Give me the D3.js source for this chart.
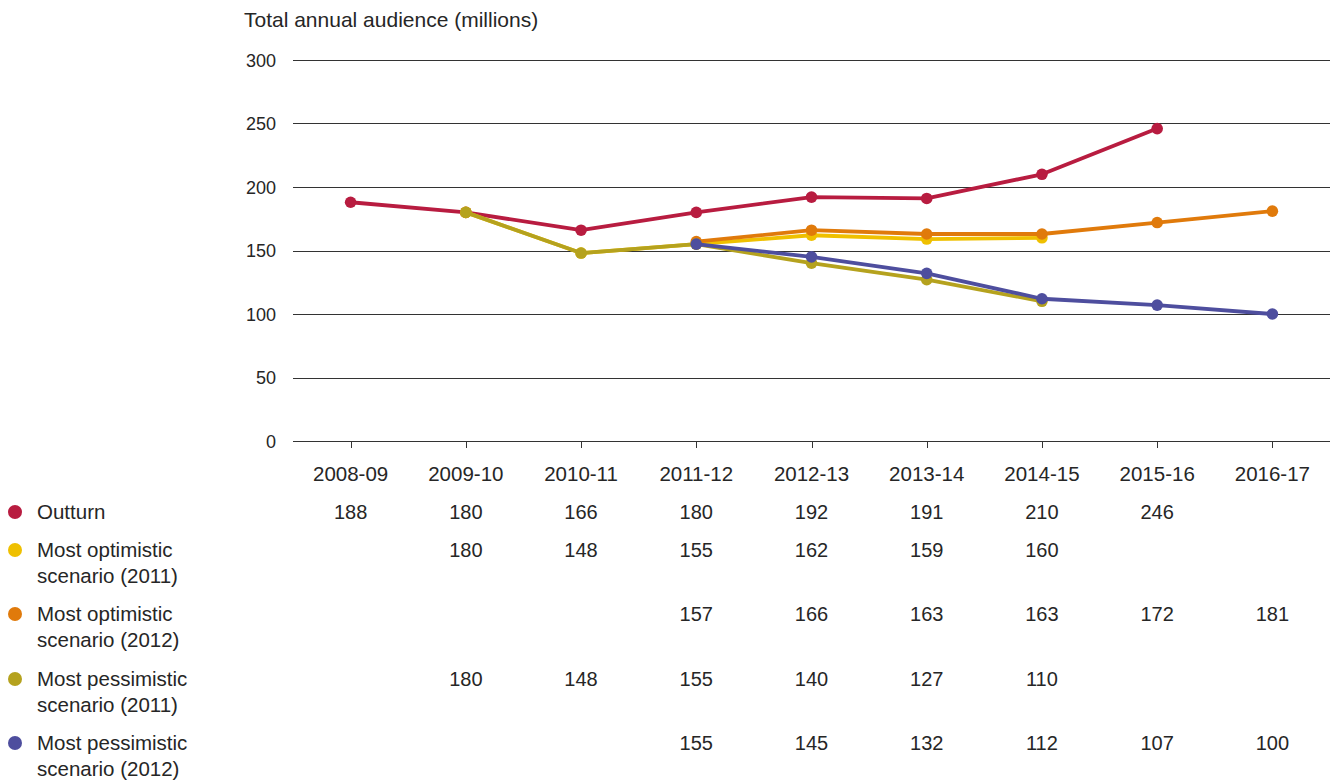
<!DOCTYPE html>
<html><head><meta charset="utf-8">
<script src="https://cdn.jsdelivr.net/npm/d3@7"></script>
<style>
body{margin:0;background:#fff;}
text{font-family:"Liberation Sans",Arial,sans-serif;fill:#262626;}
</style></head>
<body>
<svg id="c" width="1336" height="782"></svg>
<script>
const categories = ["2008-09","2009-10","2010-11","2011-12","2012-13","2013-14","2014-15","2015-16","2016-17"];
const outturn       = [188,180,166,180,192,191,210,246,null];
const optimistic2011 = [null,180,148,155,162,159,160,null,null];
const optimistic2012 = [null,null,null,157,166,163,163,172,181];
const pessimistic2011 = [null,180,148,155,140,127,110,null,null];
const pessimistic2012 = [null,null,null,155,145,132,112,107,100];
const yTicks = [0,50,100,150,200,250,300];
const seriesNames = [["Outturn"],["Most optimistic","scenario (2011)"],["Most optimistic","scenario (2012)"],["Most pessimistic","scenario (2011)"],["Most pessimistic","scenario (2012)"]];
const seriesColors = ["#B81C40","#EFC000","#E07A0B","#B5A21E","#4E4E9E"];
const seriesValues = [outturn, optimistic2011, optimistic2012, pessimistic2011, pessimistic2012];

const svg = d3.select("#c");
const x = d3.scaleBand().domain(categories).range([293,1330]);
const y = d3.scaleLinear().domain([0,300]).range([441,60]);
const cx = c => x(c) + x.bandwidth()/2;

// title
svg.append("text").attr("x",244).attr("y",27).attr("font-size",21).text("Total annual audience (millions)");

// gridlines
const g = svg.append("g");
g.selectAll("line.grid").data(yTicks).join("line")
  .attr("x1",293).attr("x2",1330)
  .attr("y1",d=>Math.round(y(d))+0.5).attr("y2",d=>Math.round(y(d))+0.5)
  .attr("stroke","#333").attr("stroke-width",1);
g.selectAll("text.yt").data(yTicks).join("text")
  .attr("x",276).attr("y",d=>y(d)+6.5).attr("text-anchor","end").attr("font-size",18).text(d=>d);

// x ticks
g.selectAll("line.xt").data(categories).join("line")
  .attr("x1",d=>Math.round(cx(d))+0.5).attr("x2",d=>Math.round(cx(d))+0.5)
  .attr("y1",441).attr("y2",448).attr("stroke","#333");
g.selectAll("text.xl").data(categories).join("text")
  .attr("x",d=>cx(d)).attr("y",481).attr("text-anchor","middle").attr("font-size",20.5).text(d=>d);

// lines
const line = d3.line().defined(d=>d.v!=null).x(d=>cx(d.c)).y(d=>y(d.v));
seriesValues.forEach((vals,i)=>{
  const pts = categories.map((c,j)=>({c, v: vals[j]}));
  svg.append("path").datum(pts).attr("d",line).attr("fill","none")
    .attr("stroke",seriesColors[i]).attr("stroke-width",3.8).attr("stroke-linejoin","round");
  svg.append("g").selectAll("circle").data(pts.filter(d=>d.v!=null)).join("circle")
    .attr("cx",d=>cx(d.c)).attr("cy",d=>y(d.v)).attr("r",5.8).attr("fill",seriesColors[i]);
});

// table / legend
const rowY = [512,550,614,679,743];
seriesValues.forEach((vals,i)=>{
  const r = svg.append("g");
  r.append("circle").attr("cx",15).attr("cy",rowY[i]).attr("r",7).attr("fill",seriesColors[i]);
  seriesNames[i].forEach((t,k)=>{
    r.append("text").attr("x",37).attr("y",rowY[i]+7+k*26).attr("font-size",20.5).text(t);
  });
  r.selectAll("text.v").data(categories.map((c,j)=>({c,v:vals[j]})).filter(d=>d.v!=null)).join("text")
    .attr("x",d=>cx(d.c)).attr("y",rowY[i]+7).attr("text-anchor","middle").attr("font-size",20).text(d=>d.v);
});
</script>
</body></html>
